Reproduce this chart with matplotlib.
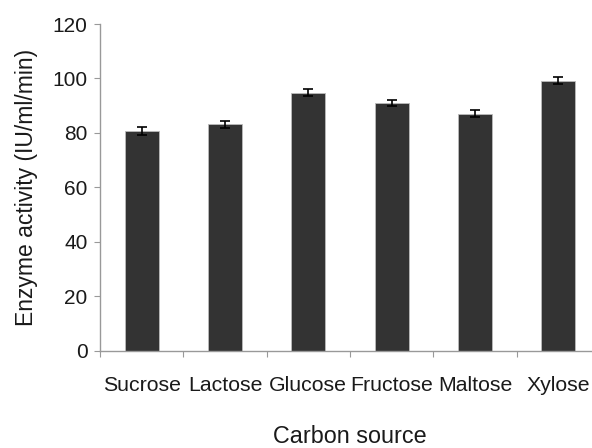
import numpy as np
import matplotlib
matplotlib.use("Agg")
import matplotlib.pyplot as plt

plt.rcParams['font.family'] = ['Liberation Sans', 'DejaVu Sans']

# data
carbon_sources = ["Sucrose", "Lactose", "Glucose", "Fructose", "Maltose", "Xylose"]
activity = [80.8, 83.2, 94.8, 90.9, 87.1, 99.1]
activity_err = [1.5, 1.3, 1.2, 1.2, 1.3, 1.3]

fig = plt.figure(figsize=(5.92, 4.48), dpi=100)
# axes runs a little past the right edge, like the cropped original
ax = fig.add_axes([100/592, (448-350.7)/448, 500/592, 326.7/448])

x = np.arange(len(carbon_sources))
ax.bar(x, activity, width=0.41, color="#333333", edgecolor="#bbbbbb", linewidth=0.6,
       yerr=activity_err, capsize=3.6,
       error_kw=dict(ecolor="black", elinewidth=1.2, capthick=1.2))

ax.set_xlim(-0.5, len(carbon_sources) - 0.5)
ax.set_ylim(0, 120)
ax.set_yticks(np.arange(0, 121, 20))
ax.set_xticks(x)
ax.set_xticklabels(carbon_sources)
ax.set_xticks(np.arange(-0.5, len(carbon_sources), 1), minor=True)

for side in ["top", "right"]:
    ax.spines[side].set_visible(False)
for side in ["left", "bottom"]:
    ax.spines[side].set_color("#999999")
    ax.spines[side].set_linewidth(1.0)

ax.tick_params(axis="y", length=4, width=0.8, color="#999999", pad=5,
               labelsize=15, labelcolor="#1a1a1a")
ax.tick_params(axis="x", which="major", length=0, pad=18,
               labelsize=15.3, labelcolor="#1a1a1a")
ax.tick_params(axis="x", which="minor", length=4, width=0.8, color="#999999")

ax.set_ylabel("Enzyme activity (IU/ml/min)", fontsize=16.5, color="#1a1a1a", labelpad=10)
ax.set_xlabel("Carbon source", fontsize=16.8, color="#1a1a1a", labelpad=22)

fig.savefig("out.png", dpi=100)
